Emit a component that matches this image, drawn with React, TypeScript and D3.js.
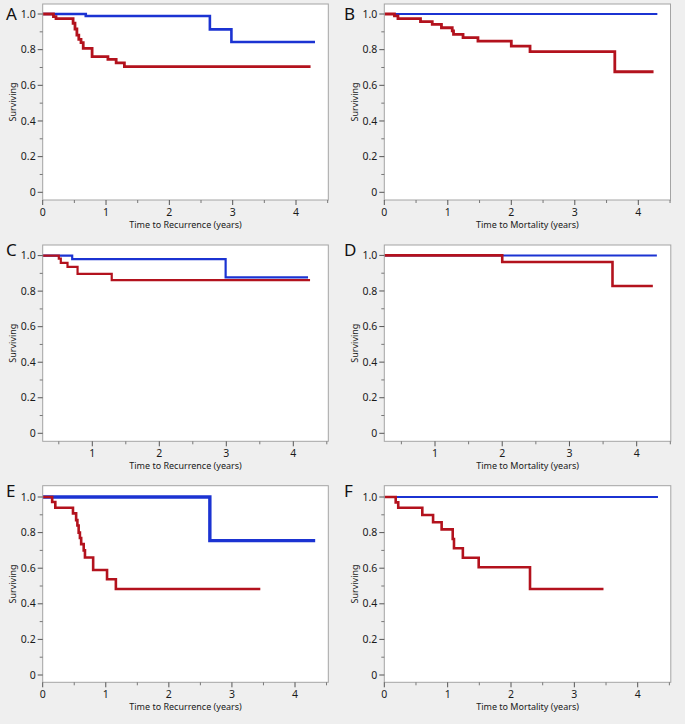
import React from "react";
import * as d3 from "d3";

// ---------- DATA ----------
const panelLetters = ["A", "B", "C", "D", "E", "F"];
const xTitles = [
  "Time to Recurrence (years)",
  "Time to Mortality (years)",
  "Time to Recurrence (years)",
  "Time to Mortality (years)",
  "Time to Recurrence (years)",
  "Time to Mortality (years)",
];
const yTitle = "Surviving";
const yTickValues = [0, 0.2, 0.4, 0.6, 0.8, 1.0];
const yTickLabels = ["0", "0.2", "0.4", "0.6", "0.8", "1.0"];
const xTickValues = [0, 1, 2, 3, 4];
const xTickLabels = ["0", "1", "2", "3", "4"];

// Panel A
const aBlueT = [0, 0.68, 2.64, 2.98];
const aBlueS = [1, 0.989, 0.914, 0.843];
const aBlueEnd = 4.3;
const aRedT = [0, 0.17, 0.21, 0.48, 0.51, 0.54, 0.57, 0.605, 0.64, 0.78, 1.03, 1.16, 1.29];
const aRedS = [1, 0.985, 0.974, 0.948, 0.916, 0.882, 0.858, 0.839, 0.807, 0.761, 0.745, 0.726, 0.705];
const aRedEnd = 4.23;

// Panel B
const bBlueT = [0];
const bBlueS = [1];
const bBlueEnd = 4.3;
const bRedT = [0, 0.16, 0.215, 0.57, 0.755, 0.9, 1.07, 1.09, 1.24, 1.475, 2.0, 2.295, 3.63];
const bRedS = [1, 0.989, 0.974, 0.957, 0.942, 0.923, 0.905, 0.886, 0.867, 0.848, 0.82, 0.789, 0.676];
const bRedEnd = 4.24;

// Panel C
const cBlueT = [0, 0.7, 2.99];
const cBlueS = [1, 0.98, 0.878];
const cBlueEnd = 4.22;
const cRedT = [0, 0.5, 0.53, 0.63, 0.78, 1.29];
const cRedS = [1, 0.983, 0.959, 0.936, 0.897, 0.862];
const cRedEnd = 4.25;

// Panel D
const dBlueT = [0];
const dBlueS = [1];
const dBlueEnd = 4.3;
const dRedT = [0, 2.0, 3.64];
const dRedS = [1, 0.963, 0.828];
const dRedEnd = 4.24;

// Panel E
const eBlueT = [0, 2.65];
const eBlueS = [1, 0.755];
const eBlueEnd = 4.32;
const eRedT = [0, 0.15, 0.2, 0.48, 0.53, 0.55, 0.57, 0.59, 0.61, 0.65, 0.67, 0.8, 1.02, 1.16];
const eRedS = [1, 0.972, 0.94, 0.908, 0.87, 0.84, 0.8, 0.77, 0.735, 0.7, 0.66, 0.59, 0.538, 0.483];
const eRedEnd = 3.45;

// Panel F
const fBlueT = [0];
const fBlueS = [1];
const fBlueEnd = 4.32;
const fRedT = [0, 0.18, 0.22, 0.6, 0.77, 0.905, 1.08, 1.1, 1.24, 1.49, 2.3];
const fRedS = [1, 0.97, 0.94, 0.899, 0.858, 0.818, 0.764, 0.712, 0.659, 0.605, 0.483];
const fRedEnd = 3.46;

// ---------- LAYOUT / STYLE ----------
const W = 685;
const H = 724;
const BLUE = "#1b33d2";
const RED = "#b3121d";
const FONT = "'Segoe UI', 'Noto Sans', 'DejaVu Sans', sans-serif";

type Curve = { t: number[]; s: number[]; end: number };

const panels = [
  {
    frame: [42.7, 4, 328.3, 200],
    xMap: [0, 4, 42.7, 296],
    yMap: [192.3, 14],
    blue: { t: aBlueT, s: aBlueS, end: aBlueEnd },
    red: { t: aRedT, s: aRedS, end: aRedEnd },
    bw: 2.6, rw: 2.8,
  },
  {
    frame: [384.3, 4, 670.5, 200],
    xMap: [0, 4, 384.3, 638.3],
    yMap: [192.3, 14],
    blue: { t: bBlueT, s: bBlueS, end: bBlueEnd },
    red: { t: bRedT, s: bRedS, end: bRedEnd },
    bw: 2, rw: 2.8,
  },
  {
    frame: [42.7, 245, 328.3, 441.3],
    xMap: [1, 4, 92.3, 293.3],
    yMap: [433.3, 255.6],
    blue: { t: cBlueT, s: cBlueS, end: cBlueEnd },
    red: { t: cRedT, s: cRedS, end: cRedEnd },
    bw: 2.2, rw: 2.2,
  },
  {
    frame: [384.3, 245, 670.8, 441.3],
    xMap: [1, 4, 435, 636.7],
    yMap: [433.3, 255.4],
    blue: { t: dBlueT, s: dBlueS, end: dBlueEnd },
    red: { t: dRedT, s: dRedS, end: dRedEnd },
    bw: 2, rw: 2.6,
  },
  {
    frame: [42.7, 485.7, 328.3, 682.3],
    xMap: [0, 4, 42.7, 295],
    yMap: [675, 497],
    blue: { t: eBlueT, s: eBlueS, end: eBlueEnd },
    red: { t: eRedT, s: eRedS, end: eRedEnd },
    bw: 3.4, rw: 2.6,
  },
  {
    frame: [384.3, 485.7, 670.8, 682.3],
    xMap: [0, 4, 384.3, 637.7],
    yMap: [675, 497],
    blue: { t: fBlueT, s: fBlueS, end: fBlueEnd },
    red: { t: fRedT, s: fRedS, end: fRedEnd },
    bw: 2.2, rw: 2.6,
  },
];

function curvePoints(c: Curve): [number, number][] {
  const pts: [number, number][] = c.t.map((t, i) => [t, c.s[i]]);
  pts.push([c.end, c.s[c.s.length - 1]]);
  return pts;
}

function Panel({ p, idx }: { p: any; idx: number }) {
  const [fx0, fy0, fx1, fy1] = p.frame;
  const x = d3.scaleLinear().domain([p.xMap[0], p.xMap[1]]).range([p.xMap[2], p.xMap[3]]);
  const y = d3.scaleLinear().domain([0, 1]).range(p.yMap);
  const line = d3
    .line<[number, number]>()
    .x((d) => x(d[0]))
    .y((d) => y(d[1]))
    .curve(d3.curveStepAfter);

  const xDom = [x.invert(fx0), x.invert(fx1)];
  const xMinor = d3.range(0, 5, 0.5).filter((v) => v >= xDom[0] - 1e-6 && v <= xDom[1] + 1e-6 && Math.abs(v % 1) > 0.1);
  const xMajor = xTickValues.filter((v) => v >= xDom[0] - 1e-6 && v <= xDom[1]);
  const yMinor = [0.1, 0.3, 0.5, 0.7, 0.9];
  const clipId = `clip${idx}`;
  const cx = (fx0 + fx1) / 2;
  const cy = (fy0 + fy1) / 2;
  const col = idx % 2;
  const letterX = col === 0 ? 6 : 344;

  return (
    <g>
      <defs>
        <clipPath id={clipId}>
          <rect x={fx0} y={fy0} width={fx1 - fx0} height={fy1 - fy0} />
        </clipPath>
      </defs>
      <rect x={fx0} y={fy0} width={fx1 - fx0} height={fy1 - fy0} fill="#ffffff" />
      <g clipPath={`url(#${clipId})`}>
        <path d={line(curvePoints(p.blue)) || ""} fill="none" stroke={BLUE} strokeWidth={p.bw} />
        <path d={line(curvePoints(p.red)) || ""} fill="none" stroke={RED} strokeWidth={p.rw} />
      </g>
      <rect x={fx0} y={fy0} width={fx1 - fx0} height={fy1 - fy0} fill="none" stroke="#a4a4a4" strokeWidth={1} />
      {yTickValues.map((v, i) => (
        <g key={`yt${i}`}>
          <line x1={fx0 - 5} x2={fx0} y1={y(v)} y2={y(v)} stroke="#555" strokeWidth={1} />
          <text x={fx0 - 7} y={y(v)} dy="0.35em" textAnchor="end" fontSize={10.5} fill="#1a1a1a" fontFamily={FONT}>
            {yTickLabels[i]}
          </text>
        </g>
      ))}
      {yMinor.map((v, i) => (
        <line key={`ym${i}`} x1={fx0 - 3} x2={fx0} y1={y(v)} y2={y(v)} stroke="#777" strokeWidth={1} />
      ))}
      {xMajor.map((v) => (
        <g key={`xt${v}`}>
          <line x1={x(v)} x2={x(v)} y1={fy1} y2={fy1 + 5} stroke="#555" strokeWidth={1} />
          <text x={x(v)} y={fy1 + 12} dy="0.35em" textAnchor="middle" fontSize={10.5} fill="#1a1a1a" fontFamily={FONT}>
            {xTickLabels[xTickValues.indexOf(v)]}
          </text>
        </g>
      ))}
      {xMinor.map((v) => (
        <line key={`xm${v}`} x1={x(v)} x2={x(v)} y1={fy1} y2={fy1 + 3} stroke="#777" strokeWidth={1} />
      ))}
      <text x={cx} y={fy1 + 25} dy="0.35em" textAnchor="middle" fontSize={9} fill="#1a1a1a" fontFamily={FONT}>
        {xTitles[idx]}
      </text>
      <text
        transform={`translate(${col === 0 ? 12.7 : 355},${cy}) rotate(-90)`}
        dy="0.35em"
        textAnchor="middle"
        fontSize={9}
        fill="#1a1a1a"
        fontFamily={FONT}
      >
        {yTitle}
      </text>
      <text x={letterX} y={fy0 + (idx < 2 ? 16 : 11)} fontSize={17} fill="#111" fontFamily={FONT}>
        {panelLetters[idx]}
      </text>
    </g>
  );
}

export default function App() {
  return (
    <svg width={W} height={H} style={{ position: "absolute", left: 0, top: 0 }}>
      <rect x={0} y={0} width={W} height={H} fill="#efefef" />
      {panels.map((p, i) => (
        <Panel key={i} p={p} idx={i} />
      ))}
    </svg>
  );
}
